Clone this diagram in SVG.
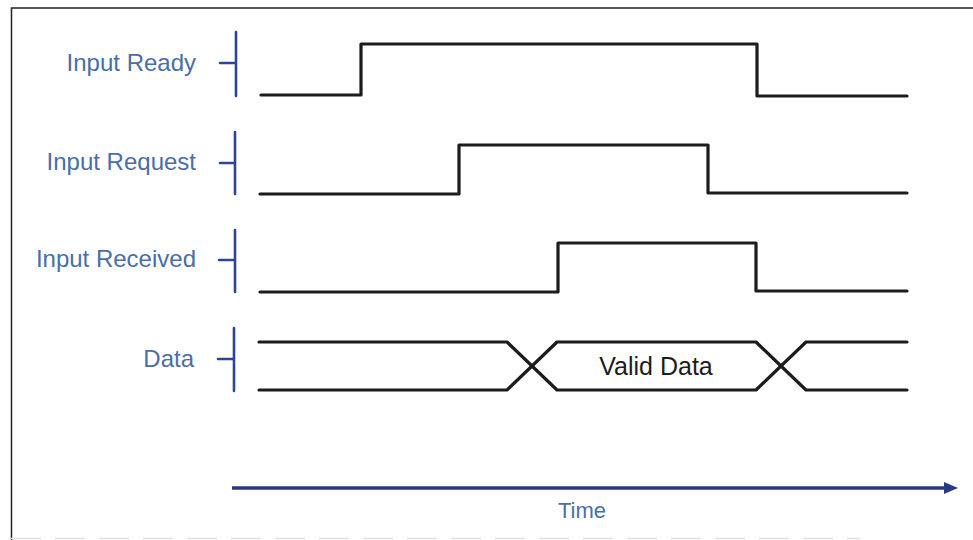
<svg xmlns="http://www.w3.org/2000/svg" width="973" height="540" viewBox="0 0 973 540">
<style>
.lbl{font-family:"Liberation Sans",Arial,sans-serif;font-size:24px;fill:#4a6ea8;text-anchor:end}
.ax{stroke:#2c4596;stroke-width:2.6;fill:none;stroke-linecap:round}
.sig{stroke:#1c1c1c;stroke-width:3.2;fill:none;stroke-linejoin:round;stroke-linecap:round}
</style>
<defs>
<marker id="ah" markerWidth="14" markerHeight="14" refX="0" refY="6" orient="auto" markerUnits="userSpaceOnUse" viewBox="0 0 14 12">
<path d="M0,0 L14,6 L0,12 Z" fill="#2a3a80"/>
</marker>
</defs>
<rect width="973" height="540" fill="#fff"/>
<path d="M973,8 L11.5,8 L11.5,540" stroke="#222" stroke-width="1.5" fill="none"/>
<line x1="11" y1="538.5" x2="860" y2="538.5" stroke="#e2e2e2" stroke-width="1.5" stroke-dasharray="30 14"/>

<g id="input-ready">
<text class="lbl" x="196" y="71">Input Ready</text>
<path class="ax" d="M236,32 V96 M220,63 H235"/>
<path class="sig" d="M261,95 H361 V44 H757 V96 H907"/>
</g>
<g id="input-request">
<text class="lbl" x="196" y="170">Input Request</text>
<path class="ax" d="M235,132 V194 M220,163 H234"/>
<path class="sig" d="M260,194 H459 V145 H708 V193 H907"/>
</g>
<g id="input-received">
<text class="lbl" x="196" y="267">Input Received</text>
<path class="ax" d="M235,230 V292 M219,260 H234"/>
<path class="sig" d="M260,292 H558 V243 H756 V291 H907"/>
</g>
<g id="data">
<text class="lbl" x="194" y="367">Data</text>
<path class="ax" d="M234,328 V391 M218,359 H233"/>
<path class="sig" d="M259,342 H507 L557,390 H756 L806,342 H907"/>
<path class="sig" d="M259,390 H507 L557,342 H756 L806,390 H907"/>
<text x="656" y="375" font-family="'Liberation Sans',Arial,sans-serif" font-size="25" fill="#1c1c1c" text-anchor="middle">Valid Data</text>
</g>
<g id="connectors">
<line x1="232" y1="488" x2="944" y2="488" stroke="#2a3a80" stroke-width="3.5" marker-end="url(#ah)"/>
</g>
<g id="time">
<text x="582" y="518" font-family="'Liberation Sans',Arial,sans-serif" font-size="22" fill="#4a6ea8" text-anchor="middle">Time</text>
</g>
</svg>
